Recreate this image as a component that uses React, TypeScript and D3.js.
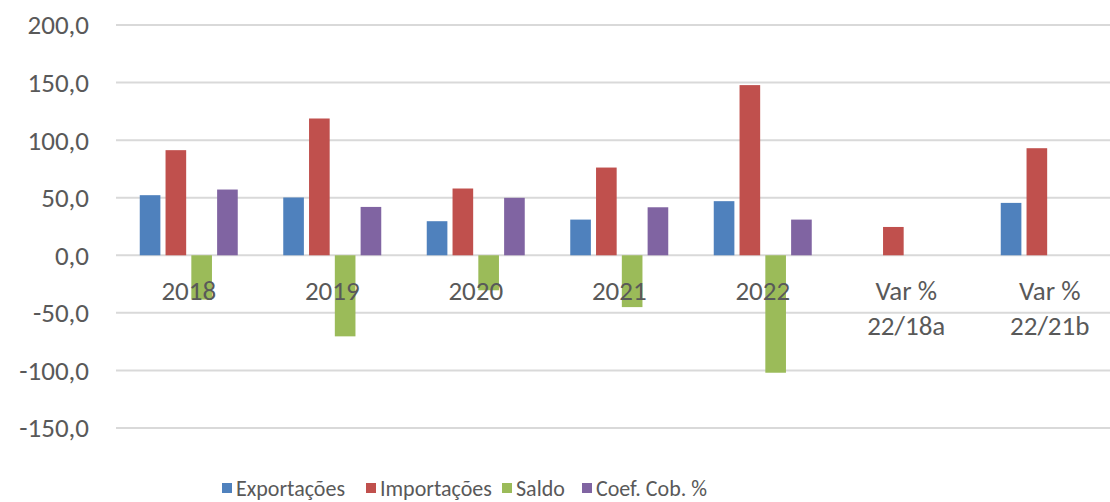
import React, { useEffect, useRef } from 'react';
import * as d3 from 'd3';

const categories = ['2018', '2019', '2020', '2021', '2022', 'Var %\n22/18a', 'Var %\n22/21b'];
const seriesNames = ['Exportações', 'Importações', 'Saldo', 'Coef. Cob. %'];
const exportacoes = [52.2, 50.2, 29.6, 31.0, 47.0, null, 45.5];
const importacoes = [91.3, 118.8, 58.0, 76.2, 147.8, 24.6, 93.0];
const saldo = [-38.5, -70.4, -30.4, -45.0, -102.0, null, null];
const coefCob = [57.1, 42.0, 49.9, 41.7, 31.0, null, null];
const yTicks = [200, 150, 100, 50, 0, -50, -100, -150];
const colors = ['#4F81BD', '#C0504D', '#9BBB59', '#8064A2'];

const FONT = 'Calibri, Carlito, Lato, sans-serif';
const TEXT = '#595959';

const App: React.FC = () => {
    const svgRef = useRef<SVGSVGElement | null>(null);

    useEffect(() => {
        const svg = d3.select(svgRef.current);
        svg.selectAll('*').remove();

        const width = 1110;
        const height = 502;
        const plot = { left: 117, right: 1121.5, top: 25, bottom: 428 };
        const allSeries = [exportacoes, importacoes, saldo, coefCob];

        const x = d3.scaleBand().domain(categories).range([plot.left, plot.right]).padding(0);
        const xInner = d3.scaleBand().domain(seriesNames)
            .range([(x.bandwidth() - 98) / 2, (x.bandwidth() + 98) / 2])
            .paddingInner(0.2).paddingOuter(0);
        const y = d3.scaleLinear().domain([-150, 200]).range([plot.bottom, plot.top]);

        // gridlines
        svg.append('g')
            .selectAll('line')
            .data(yTicks)
            .enter()
            .append('line')
            .attr('x1', plot.left - 1)
            .attr('x2', width)
            .attr('y1', d => y(d))
            .attr('y2', d => y(d))
            .attr('stroke', '#D9D9D9')
            .attr('stroke-width', 2);

        // y labels
        svg.append('g')
            .selectAll('text')
            .data(yTicks)
            .enter()
            .append('text')
            .attr('x', 89)
            .attr('y', d => y(d))
            .attr('dy', '0.35em')
            .attr('text-anchor', 'end')
            .attr('font-family', FONT)
            .attr('font-size', 27)
            .attr('fill', TEXT)
            .text(d => d3.format('.1f')(d).replace('.', ',').replace('−', '-'));

        // bars
        const bars = allSeries.flatMap((vals, s) =>
            vals.map((v, i) => ({ s, cat: categories[i], v }))
        ).filter(d => d.v !== null) as { s: number; cat: string; v: number }[];

        svg.append('g')
            .selectAll('rect')
            .data(bars)
            .enter()
            .append('rect')
            .attr('x', d => x(d.cat)! + xInner(seriesNames[d.s])!)
            .attr('width', xInner.bandwidth())
            .attr('y', d => Math.min(y(d.v), y(0)))
            .attr('height', d => Math.abs(y(d.v) - y(0)))
            .attr('fill', d => colors[d.s]);

        // category labels
        const cat = svg.append('g')
            .selectAll('text')
            .data(categories)
            .enter()
            .append('text')
            .attr('x', d => x(d)! + x.bandwidth() / 2)
            .attr('y', 300)
            .attr('text-anchor', 'middle')
            .attr('font-family', FONT)
            .attr('font-size', 27)
            .attr('fill', TEXT);
        cat.each(function (d) {
            const lines = d.split('\n');
            const t = d3.select(this);
            lines.forEach((l, k) => {
                t.append('tspan')
                    .attr('x', x(d)! + x.bandwidth() / 2)
                    .attr('dy', k === 0 ? 0 : 35)
                    .text(l);
            });
        });

        // legend
        const legendX = [222, 366, 502, 582];
        const lg = svg.append('g')
            .selectAll('g')
            .data(seriesNames)
            .enter()
            .append('g')
            .attr('transform', (d, i) => `translate(${legendX[i]},483)`);
        lg.append('rect')
            .attr('width', 10)
            .attr('height', 10)
            .attr('fill', (d, i) => colors[i]);
        lg.append('text')
            .attr('x', 14)
            .attr('y', 13)
            .attr('font-family', FONT)
            .attr('font-size', 22)
            .attr('fill', TEXT)
            .text(d => d);

        svg.attr('width', width).attr('height', height);
    }, []);

    return (
        <svg
            ref={svgRef}
            width={1110}
            height={502}
            style={{ position: 'absolute', left: 0, top: 0, background: '#fff' }}
        ></svg>
    );
};

export default App;
